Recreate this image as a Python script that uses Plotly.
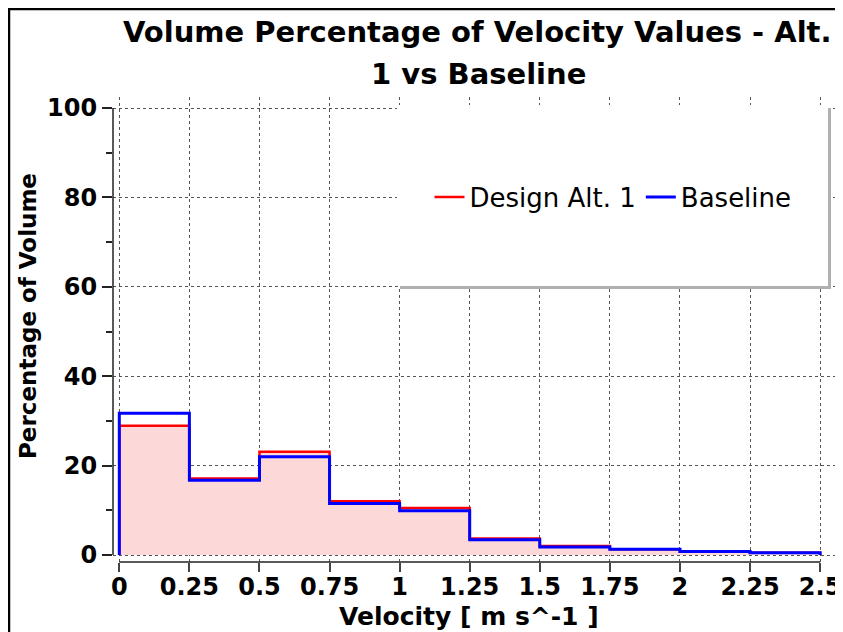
import plotly.graph_objects as go

# ---- data ----
bin_edges = [0, 0.25, 0.5, 0.75, 1.0, 1.25, 1.5, 1.75, 2.0, 2.25, 2.5]
design_alt1 = [28.9, 17.1, 23.1, 12.0, 10.5, 3.7, 2.0, 1.3, 0.8, 0.5]
baseline = [31.7, 16.7, 22.0, 11.5, 9.9, 3.4, 1.8, 1.3, 0.8, 0.5]
x_ticks = [0, 0.25, 0.5, 0.75, 1, 1.25, 1.5, 1.75, 2, 2.25, 2.5]
x_tick_text = ["0", "0.25", "0.5", "0.75", "1", "1.25", "1.5", "1.75", "2", "2.25", "2.5"]
y_ticks = [0, 20, 40, 60, 80, 100]


def step_xy(edges, vals):
    xs = [edges[0]] + list(edges[:-1]) + [edges[-1]]
    ys = [0] + list(vals) + [0]
    return xs, ys


# page has an 8px body margin; figure is sized/placed to compensate
OFF = 8
W, H = 835, 624
L, R, T, B = 105, 3, 89, 70
pw, ph = W - L - R, H - T - B


def px(x):  # page pixel x -> paper
    return (x - OFF - L) / pw


def py(y):  # page pixel y -> paper
    return (H - B - (y - OFF)) / ph


FONT = "DejaVu Sans"

fig = go.Figure()
xr, yr = step_xy(bin_edges, design_alt1)
fig.add_trace(go.Scatter(x=xr, y=yr, mode="lines", line_shape="hv",
                         line=dict(color="rgba(0,0,0,0)", width=0),
                         fill="tozeroy", fillcolor="rgba(253,216,216,1)",
                         showlegend=False, hoverinfo="skip"))
fig.add_trace(go.Scatter(x=xr, y=yr, mode="lines", line_shape="hv",
                         line=dict(color="#ff0000", width=2.5),
                         name="Design Alt. 1"))
xb, yb = step_xy(bin_edges, baseline)
fig.add_trace(go.Scatter(x=xb, y=yb, mode="lines", line_shape="hv",
                         line=dict(color="#0000ff", width=3),
                         name="Baseline"))

title_font = dict(family=FONT, size=29, color="black", weight="bold")

fig.update_layout(
    width=W, height=H,
    margin=dict(l=L, r=R, t=T, b=B),
    paper_bgcolor="white", plot_bgcolor="white",
    showlegend=True,
    legend=dict(orientation="h", x=px(613), y=py(197), xanchor="center", yanchor="middle",
                bgcolor="rgba(0,0,0,0)", font=dict(family=FONT, size=26, color="black"),
                itemwidth=30),
    xaxis=dict(range=[-0.0225, 2.571], tickvals=x_ticks, ticktext=x_tick_text,
               showgrid=True, gridcolor="#555", griddash="dot", gridwidth=1,
               zeroline=False, showline=False, ticks="outside", ticklen=9,
               tickcolor="#444", tickwidth=1.5, ticklabelstandoff=-6,
               tickfont=dict(family=FONT, size=24, color="black", weight="bold")),
    yaxis=dict(range=[-1.566, 102.46], tickvals=y_ticks,
               showgrid=True, gridcolor="#555", griddash="dot", gridwidth=1,
               zeroline=False, showline=False, ticks="outside", ticklen=10,
               tickcolor="#222", tickwidth=1.5,
               minor=dict(dtick=10, ticks="outside", ticklen=6, tickcolor="#222", showgrid=False),
               tickfont=dict(family=FONT, size=24, color="black", weight="bold")),
    shapes=[
        # axis lines
        dict(type="line", xref="x", yref="paper", x0=bin_edges[0], x1=bin_edges[-1], y0=0, y1=0,
             line=dict(color="#222", width=1.5)),
        dict(type="line", xref="paper", yref="y", x0=0, x1=0, y0=y_ticks[0], y1=y_ticks[-1],
             line=dict(color="#222", width=1.5)),
        # legend box shadow + box
        dict(type="rect", xref="paper", yref="paper", x0=px(400), x1=px(831), y0=py(289), y1=py(108),
             fillcolor="#b0b0b0", line=dict(width=0), layer="above"),
        dict(type="rect", xref="paper", yref="paper", x0=px(397), x1=px(828), y0=py(286), y1=py(105),
             fillcolor="white", line=dict(width=0), layer="above"),
        # outer frame
        dict(type="rect", xref="paper", yref="paper", x0=px(9), x1=px(840), y0=py(660), y1=py(9),
             line=dict(color="black", width=2.5), fillcolor="rgba(0,0,0,0)", layer="above"),
    ],
    annotations=[
        dict(text="Volume Percentage of Velocity Values - Alt.", xref="paper", yref="paper",
             x=px(477), y=py(32), showarrow=False, xanchor="center", yanchor="middle",
             font=title_font),
        dict(text="1 vs Baseline", xref="paper", yref="paper",
             x=px(478), y=py(74), showarrow=False, xanchor="center", yanchor="middle",
             font=title_font),
        dict(text="Percentage of Volume", xref="paper", yref="paper", x=px(28), y=py(316),
             textangle=-90, showarrow=False, xanchor="center", yanchor="middle",
             font=dict(family=FONT, size=23, color="black", weight="bold")),
        dict(text="Velocity [ m s^-1 ]", xref="paper", yref="paper", x=px(469), y=py(616),
             showarrow=False, xanchor="center", yanchor="middle",
             font=dict(family=FONT, size=25, color="black", weight="bold")),
    ],
)

fig.write_html("out.html")
